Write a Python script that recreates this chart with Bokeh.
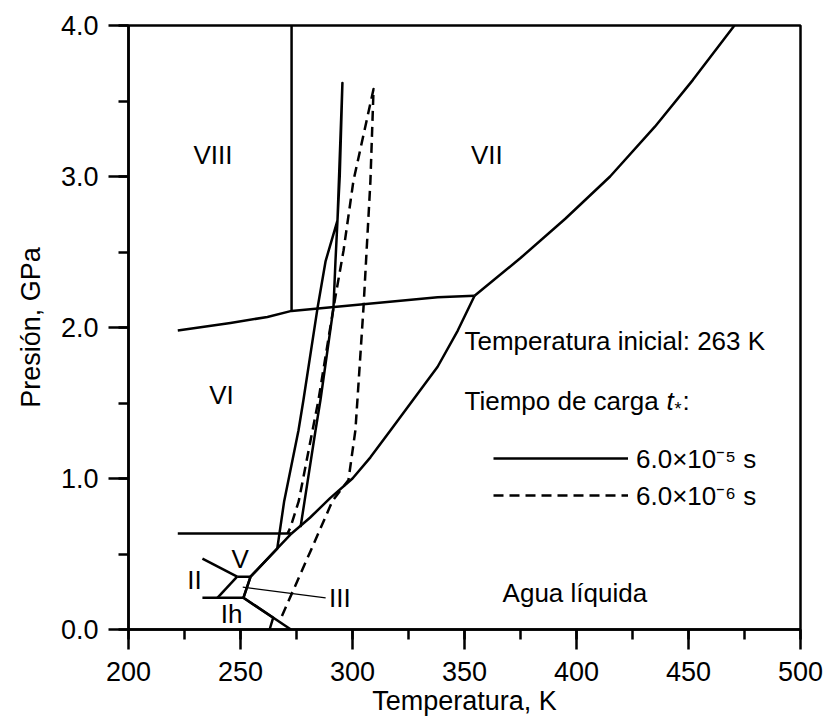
from bokeh.plotting import figure
from bokeh.models import (Label, SingleIntervalTicker, Range1d, PrintfTickFormatter,
                          Legend, LegendItem)
from bokeh.embed import file_html
from bokeh.resources import INLINE

FONT = "Liberation Sans"
TICK_PT = "27px"
TEXT_PT = "26px"

# ---- axes ----
x_ticks = [200, 250, 300, 350, 400, 450, 500]
y_ticks = [0.0, 1.0, 2.0, 3.0, 4.0]

# ---- phase boundaries of water ice (temperature in K, pressure in GPa) ----
ih_liq_T = [251.3, 272.5]
ih_liq_P = [0.21, 0.0]
ih_ii_iii_T = [233.0, 251.3]
ih_ii_iii_P = [0.21, 0.21]
ii_iii_T = [239.7, 248.5]
ii_iii_P = [0.21, 0.35]
iii_v_T = [248.5, 254.5]
iii_v_P = [0.35, 0.35]
ii_v_T = [233.0, 248.5]
ii_v_P = [0.47, 0.35]
iii_v_liq_T = [251.3, 254.5, 272.8]
iii_v_liq_P = [0.21, 0.35, 0.636]
v_vi_T = [222.0, 272.8]
v_vi_P = [0.636, 0.636]
vi_liq_T = [272.8, 281.0, 290.0, 300.0, 308.0, 317.0, 327.0, 338.0, 347.0, 354.5]
vi_liq_P = [0.636, 0.74, 0.87, 1.0, 1.14, 1.32, 1.52, 1.74, 1.98, 2.21]
vi_vii_T = [222.0, 245.5, 262.0, 272.8, 338.0, 354.5]
vi_vii_P = [1.98, 2.03, 2.07, 2.11, 2.20, 2.21]
vii_viii_T = [272.8, 272.8]
vii_viii_P = [2.11, 4.0]
vii_liq_T = [354.5, 375.0, 395.0, 415.0, 435.0, 452.0, 470.5]
vii_liq_P = [2.21, 2.46, 2.72, 3.00, 3.33, 3.64, 4.0]

# ---- compression paths from 263 K ----
# loading time 6.0e-5 s
path_slow_T = [263.0, 264.6, 251.3, 254.5, 266.4, 269.5, 275.9, 278.1, 284.4, 288.0,
               293.3, 295.5, 294.3, 293.3, 292.4, 291.5, 285.7, 283.5, 278.6, 276.8]
path_slow_P = [0.0, 0.078, 0.21, 0.35, 0.535, 0.85, 1.32, 1.52, 2.13, 2.44,
               2.71, 3.62, 3.00, 2.71, 2.44, 2.13, 1.52, 1.32, 0.85, 0.678]
# loading time 6.0e-6 s
path_fast_T = [268.5, 281.3, 291.0, 298.2, 301.3, 302.2, 304.9, 308.0, 309.4,
               300.4, 296.0, 291.5, 284.8, 276.0, 272.3, 271.0]
path_fast_P = [0.09, 0.52, 0.85, 0.99, 1.32, 1.52, 2.13, 2.97, 3.58,
               2.97, 2.51, 2.13, 1.52, 0.85, 0.675, 0.636]

# leader line for the ice III label
iii_leader_T = [251.0, 288.0]
iii_leader_P = [0.28, 0.21]

# ---- phase labels ----
phase_names = ["VIII", "VII", "VI", "V", "II", "Ih"]
phase_T = [237.7, 360.0, 241.5, 249.8, 229.5, 246.0]
phase_P = [3.14, 3.14, 1.55, 0.465, 0.325, 0.10]

p = figure(width=827, height=723,
           x_range=Range1d(200, 500), y_range=Range1d(0, 4),
           output_backend="svg", toolbar_location=None,
           min_border_left=128, min_border_right=27,
           min_border_top=25, min_border_bottom=94)

p.grid.visible = False
p.outline_line_color = "black"
p.outline_line_width = 2.5
p.background_fill_color = "white"
p.border_fill_color = "white"

p.xaxis.ticker = SingleIntervalTicker(interval=50, num_minor_ticks=2)
p.yaxis.ticker = SingleIntervalTicker(interval=1, num_minor_ticks=2)
p.yaxis.formatter = PrintfTickFormatter(format="%.1f")
p.xaxis.axis_label = "Temperatura, K"
p.yaxis.axis_label = "Presión, GPa"
for ax in (p.xaxis[0], p.yaxis[0]):
    ax.axis_line_width = 2.5
    ax.major_tick_line_width = 2.5
    ax.minor_tick_line_width = 2.5
    ax.major_tick_in = 0
    ax.major_tick_out = 20
    ax.minor_tick_in = 0
    ax.minor_tick_out = 10
    ax.major_label_text_font = FONT
    ax.major_label_text_font_size = TICK_PT
    ax.major_label_text_color = "black"
    ax.axis_label_text_font = FONT
    ax.axis_label_text_font_size = TICK_PT
    ax.axis_label_text_font_style = "normal"
    ax.axis_label_text_color = "black"
p.xaxis.major_label_standoff = 12
p.yaxis.major_label_standoff = 10
p.xaxis.axis_label_standoff = 2
p.yaxis.axis_label_standoff = 12

LW = 2.5
boundaries = [
    (ih_liq_T, ih_liq_P), (ih_ii_iii_T, ih_ii_iii_P), (ii_iii_T, ii_iii_P),
    (iii_v_T, iii_v_P), (ii_v_T, ii_v_P), (iii_v_liq_T, iii_v_liq_P),
    (v_vi_T, v_vi_P), (vi_liq_T, vi_liq_P), (vi_vii_T, vi_vii_P),
    (vii_viii_T, vii_viii_P), (vii_liq_T, vii_liq_P),
]
for bx, by in boundaries:
    p.line(bx, by, line_color="black", line_width=LW, line_join="round")

p.line(iii_leader_T, iii_leader_P, line_color="black", line_width=1.2)

r_slow = p.line(path_slow_T, path_slow_P, line_color="black", line_width=LW,
                line_join="round")
r_fast = p.line(path_fast_T, path_fast_P, line_color="black", line_width=LW,
                line_dash="10 6", line_join="round")

legend = Legend(items=[LegendItem(label="6.0×10⁻⁵ s", renderers=[r_slow]),
                       LegendItem(label="6.0×10⁻⁶ s", renderers=[r_fast])],
                location=(365, 116), orientation="vertical",
                glyph_width=135, glyph_height=32, label_height=32,
                label_standoff=8, spacing=1, padding=0, margin=0,
                border_line_color=None, background_fill_alpha=0,
                label_text_font=FONT, label_text_font_size=TEXT_PT,
                label_text_color="black")
p.add_layout(legend, "center")


def text(x, y, s, align="left", size=TEXT_PT, style="normal", dx=0, dy=0):
    p.add_layout(Label(x=x, y=y, text=s, x_offset=dx, y_offset=dy,
                       text_font=FONT, text_font_size=size, text_font_style=style,
                       text_align=align, text_baseline="middle", text_color="black"))


for name, tx, ty in zip(phase_names, phase_T, phase_P):
    text(tx, ty, name, align="center")
text(289.5, 0.21, "III")
text(367.0, 0.24, "Agua líquida")
text(350.0, 1.91, "Temperatura inicial: 263 K")

# "Tiempo de carga t*:" with an italic t and a subscript star
text(350.0, 1.51, "Tiempo de carga")
text(350.0, 1.51, "t", style="italic", dx=202)
text(350.0, 1.51, "*", size="18px", dx=210, dy=-8)
text(350.0, 1.51, ":", dx=218)

open("out.html", "w").write(file_html(p, INLINE))
